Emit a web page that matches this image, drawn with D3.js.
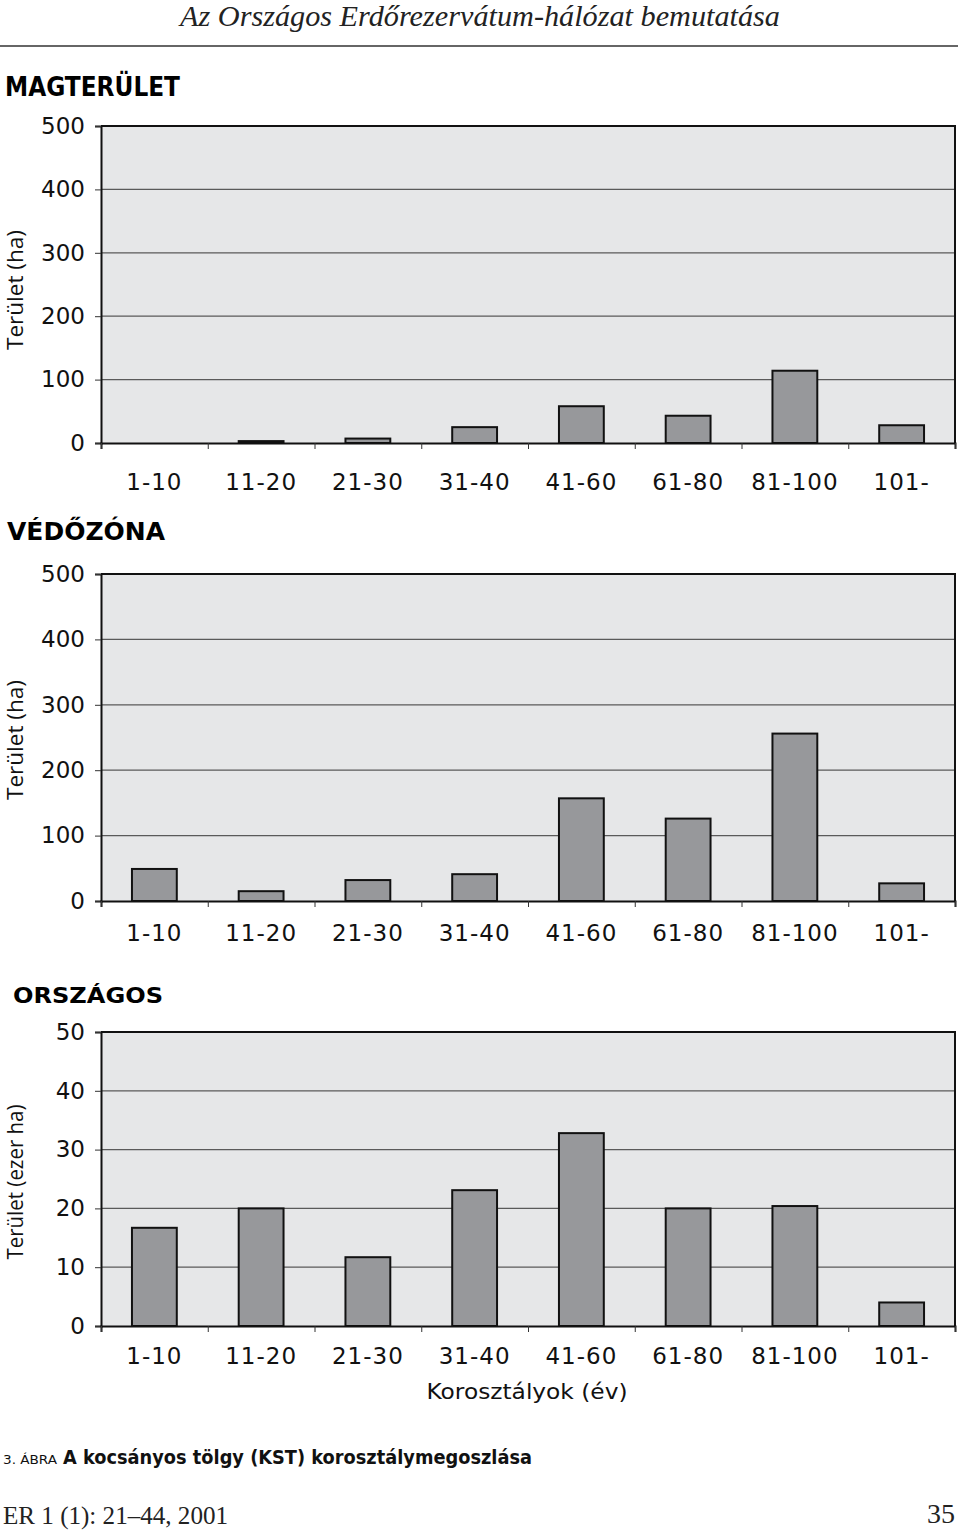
<!DOCTYPE html>
<html>
<head>
<meta charset="utf-8">
<script src="https://cdn.jsdelivr.net/npm/d3@7"></script>
<style>
  body { margin: 0; background: #fff; }
  svg { display: block; }
</style>
</head>
<body>
<div class="graph"></div>
<script>
// age classes (korosztályok)
const categories = ["1-10", "11-20", "21-30", "31-40", "41-60", "61-80", "81-100", "101-"]
// area values
const magterulet = [0, 3, 7, 25, 58, 43, 114, 28]          // ha
const vedozona = [49, 15, 32, 41, 157, 126, 256, 27]       // ha
const orszagos = [16.7, 20, 11.7, 23.1, 32.8, 20, 20.4, 4] // ezer ha
const haTicks = [0, 100, 200, 300, 400, 500]
const ezerTicks = [0, 10, 20, 30, 40, 50]

const w = 960
const h = 1531
const left = 101
const right = 955
const tickFont = "'DejaVu Sans', sans-serif"
const labelFont = "'Open Sans', 'DejaVu Sans', sans-serif"

const svg = d3.select(".graph")
  .append("svg")
  .attr("width", w)
  .attr("height", h)
  .style("background", "#fff")

// page header
svg.append("text")
  .attr("x", 480).attr("y", 26)
  .attr("text-anchor", "middle")
  .attr("textLength", 600)
  .attr("lengthAdjust", "spacingAndGlyphs")
  .style("font-family", "'Liberation Serif', serif")
  .style("font-style", "italic")
  .style("font-size", "30px")
  .style("fill", "#222")
  .text("Az Országos Erdőrezervátum-hálózat bemutatása")

svg.append("line")
  .attr("x1", 0).attr("x2", 958)
  .attr("y1", 46).attr("y2", 46)
  .style("stroke", "#333").style("stroke-width", 1.5)

function drawChart(opts) {
  const g = svg.append("g")

  const x = d3.scaleBand()
    .domain(categories)
    .range([left, right])
    .paddingInner(0.58)
    .paddingOuter(0.29)

  const edges = d3.scaleLinear()
    .domain([0, categories.length])
    .range([left, right])

  const y = d3.scaleLinear()
    .domain([0, d3.max(opts.ticks)])
    .range([opts.bottom, opts.top])

  // section title
  g.append("text")
    .attr("x", opts.titleX).attr("y", opts.titleY)
    .attr("textLength", opts.titleLen)
    .attr("lengthAdjust", "spacingAndGlyphs")
    .style("font-family", "'DejaVu Sans', sans-serif")
    .style("font-weight", "bold")
    .style("font-size", opts.titleSize + "px")
    .text(opts.title)

  // plot area
  g.append("rect")
    .attr("x", left).attr("y", opts.top)
    .attr("width", right - left).attr("height", opts.bottom - opts.top)
    .style("fill", "#e6e7e8")

  // gridlines
  g.selectAll(".grid")
    .data(opts.ticks.filter(t => t > 0 && t < d3.max(opts.ticks)))
    .enter()
    .append("line")
    .attr("class", "grid")
    .attr("x1", left).attr("x2", right)
    .attr("y1", d => y(d)).attr("y2", d => y(d))
    .style("stroke", "#5a5a5a").style("stroke-width", 1.2)

  // bars
  g.selectAll(".bar")
    .data(opts.values)
    .enter()
    .append("rect")
    .attr("class", "bar")
    .attr("x", (d, i) => x(categories[i]))
    .attr("y", d => y(d))
    .attr("width", x.bandwidth())
    .attr("height", d => opts.bottom - y(d))
    .style("fill", d => d > 0 ? "#97989b" : "none")
    .style("stroke", d => d > 0 ? "#111" : "none")
    .style("stroke-width", 2)

  // frame (top and right)
  g.append("path")
    .attr("d", "M" + left + "," + opts.top + "H" + right + "V" + opts.bottom)
    .style("fill", "none").style("stroke", "#111").style("stroke-width", 2)

  // y axis
  const yAxis = g.append("g")
    .attr("transform", "translate(" + left + ",0)")
    .call(d3.axisLeft(y).tickValues(opts.ticks).tickSize(6).tickPadding(10))
  yAxis.select(".domain").style("stroke", "#111").style("stroke-width", 2)
  yAxis.selectAll(".tick line").style("stroke", "#333")
  yAxis.selectAll("text")
    .style("font-family", tickFont)
    .style("font-size", "23px")
    .style("fill", "#111")

  // x axis: ticks at band edges, labels at band centers
  const xAxis = g.append("g")
    .attr("transform", "translate(0," + opts.bottom + ")")
    .call(d3.axisBottom(edges).tickValues(d3.range(categories.length + 1)).tickSize(6).tickFormat(""))
  xAxis.select(".domain").style("stroke", "#111").style("stroke-width", 2)
  xAxis.selectAll(".tick line").style("stroke", "#333")

  g.selectAll(".xlab")
    .data(categories)
    .enter()
    .append("text")
    .attr("class", "xlab")
    .attr("x", d => x(d) + x.bandwidth() / 2)
    .attr("y", opts.bottom + opts.labelGap)
    .attr("text-anchor", "middle")
    .style("font-family", tickFont)
    .style("font-size", "23px")
    .style("letter-spacing", "1px")
    .style("fill", "#111")
    .text(d => d)

  // y axis title
  g.append("text")
    .attr("transform", "translate(" + 23 + "," + opts.labelY + ") rotate(-90)")
    .attr("text-anchor", "middle")
    .attr("textLength", opts.yLabelLen)
    .attr("lengthAdjust", "spacingAndGlyphs")
    .style("font-family", labelFont)
    .style("font-size", "22px")
    .style("fill", "#111")
    .text(opts.yLabel)
}

drawChart({
  title: "MAGTERÜLET", titleX: 5, titleY: 96, titleLen: 175, titleSize: 26,
  values: magterulet, ticks: haTicks, labelGap: 47,
  top: 126, bottom: 443, labelY: 290, yLabel: "Terület (ha)", yLabelLen: 120
})

drawChart({
  title: "VÉDŐZÓNA", titleX: 7, titleY: 540, titleLen: 158, titleSize: 24,
  values: vedozona, ticks: haTicks, labelGap: 40,
  top: 574, bottom: 901, labelY: 740, yLabelLen: 120, yLabel: "Terület (ha)"
})

drawChart({
  title: "ORSZÁGOS", titleX: 13, titleY: 1003, titleLen: 150, titleSize: 21,
  values: orszagos, ticks: ezerTicks, labelGap: 38,
  top: 1032, bottom: 1326, labelY: 1182, yLabelLen: 155, yLabel: "Terület (ezer ha)"
})

// x axis title
svg.append("text")
  .attr("x", 527).attr("y", 1399)
  .attr("text-anchor", "middle")
  .attr("textLength", 201)
  .attr("lengthAdjust", "spacingAndGlyphs")
  .style("font-family", tickFont)
  .style("font-size", "21px")
  .style("fill", "#111")
  .text("Korosztályok (év)")

// caption
svg.append("text")
  .attr("x", 3).attr("y", 1464)
  .attr("textLength", 54)
  .attr("lengthAdjust", "spacingAndGlyphs")
  .style("font-family", "'DejaVu Sans', sans-serif")
  .style("font-size", "13px")
  .style("fill", "#111")
  .text("3. ÁBRA")

svg.append("text")
  .attr("x", 63).attr("y", 1464)
  .attr("textLength", 469)
  .attr("lengthAdjust", "spacingAndGlyphs")
  .style("font-family", "'DejaVu Sans', sans-serif")
  .style("font-size", "20px")
  .style("font-weight", "bold")
  .style("fill", "#111")
  .text("A kocsányos tölgy (KST) korosztálymegoszlása")

// footer
svg.append("text")
  .attr("x", 3).attr("y", 1524)
  .attr("textLength", 225)
  .attr("lengthAdjust", "spacingAndGlyphs")
  .style("font-family", "'Liberation Serif', serif")
  .style("font-size", "26px")
  .style("fill", "#222")
  .text("ER 1 (1): 21–44, 2001")

svg.append("text")
  .attr("x", 955).attr("y", 1523)
  .attr("text-anchor", "end")
  .style("font-family", "'Liberation Serif', serif")
  .style("font-size", "28px")
  .style("fill", "#222")
  .text("35")
</script>
</body>
</html>
